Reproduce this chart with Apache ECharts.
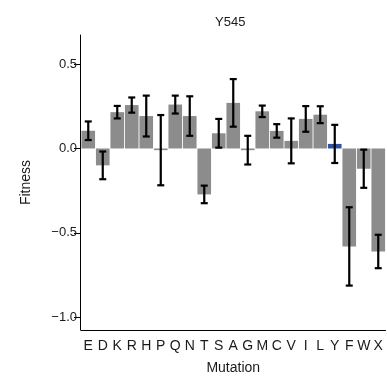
<!DOCTYPE html>
<html>
<head>
<meta charset="utf-8">
<script src="https://cdn.jsdelivr.net/npm/echarts@6/dist/echarts.min.js"></script>
<style>
  html, body { margin: 0; padding: 0; background: #fff; }
  #chart { width: 387px; height: 377px; }
</style>
</head>
<body>
<div id="chart"></div>
<script>
// Mutations at position Y545 and their measured fitness (mean and error half-width)
const mutations = ['E','D','K','R','H','P','Q','N','T','S','A','G','M','C','V','I','L','Y','F','W','X'];
const fitness = [0.105, -0.10, 0.215, 0.257, 0.192, -0.01, 0.26, 0.192, -0.272, 0.09, 0.27, -0.01, 0.22, 0.104, 0.045, 0.175, 0.20, 0.027, -0.58, -0.12, -0.61];
const errors = [0.055, 0.082, 0.037, 0.045, 0.121, 0.208, 0.053, 0.117, 0.052, 0.085, 0.141, 0.085, 0.034, 0.04, 0.133, 0.076, 0.05, 0.113, 0.232, 0.113, 0.099];
const wildType = 'Y';
const yTicks = [-1.0, -0.5, 0.0, 0.5];

const FONT = "'Liberation Sans', Arial, Helvetica, sans-serif";
const GREY = '#8c8c8c';
const BLUE = '#3150a2';

const chart = echarts.init(document.getElementById('chart'), null, { renderer: 'canvas' });

const barData = mutations.map((m, i) => ({
  value: fitness[i],
  itemStyle: { color: m === wildType ? BLUE : GREY }
}));

const errData = mutations.map((m, i) => [i, fitness[i] - errors[i], fitness[i] + errors[i]]);

function fmt(v) {
  const s = Math.abs(v).toFixed(1);
  return v < 0 ? '\u2212' + s : s;
}

chart.setOption({
  animation: false,
  backgroundColor: '#ffffff',
  textStyle: { fontFamily: FONT },
  title: {
    text: 'Y545',
    left: 210,
    top: 11,
    textStyle: { fontFamily: FONT, fontSize: 13, fontWeight: 'normal', color: '#1a1a1a' }
  },
  grid: { left: 81, right: 1.5, top: 35, bottom: 47, containLabel: false, outerBoundsMode: 'none' },
  xAxis: {
    type: 'category',
    data: mutations,
    boundaryGap: true,
    name: 'Mutation',
    nameLocation: 'middle',
    nameGap: 31,
    nameTextStyle: { fontFamily: FONT, fontSize: 14, color: '#1a1a1a' },
    axisLine: { onZero: false, lineStyle: { color: '#000', width: 1 } },
    axisTick: { alignWithLabel: true, length: 5, lineStyle: { color: '#000' } },
    axisLabel: { margin: 9, fontFamily: FONT, fontSize: 14, color: '#1a1a1a', interval: 0 },
    splitLine: { show: false }
  },
  yAxis: {
    type: 'value',
    min: -1.075,
    max: 0.672,
    offset: 1,
    name: 'Fitness',
    nameLocation: 'middle',
    nameGap: 47,
    nameTextStyle: { fontFamily: FONT, fontSize: 14, color: '#1a1a1a' },
    axisLine: { show: true, lineStyle: { color: '#000', width: 1 } },
    axisTick: { show: true, length: 6, customValues: yTicks, lineStyle: { color: '#000' } },
    axisLabel: { margin: 3, fontFamily: FONT, fontSize: 13, color: '#1a1a1a', customValues: yTicks, formatter: fmt },
    splitLine: { show: false }
  },
  series: [
    {
      type: 'bar',
      data: barData,
      barCategoryGap: '6%',
      silent: true
    },
    {
      type: 'custom',
      silent: true,
      z: 5,
      data: errData,
      renderItem: function (params, api) {
        const x = api.coord([api.value(0), 0])[0];
        const lo = api.coord([api.value(0), api.value(1)])[1];
        const hi = api.coord([api.value(0), api.value(2)])[1];
        const cap = 3.5;
        const style = { stroke: '#000', lineWidth: 2.2 };
        return {
          type: 'group',
          children: [
            { type: 'line', shape: { x1: x, y1: hi, x2: x, y2: lo }, style: style },
            { type: 'line', shape: { x1: x - cap, y1: hi, x2: x + cap, y2: hi }, style: style },
            { type: 'line', shape: { x1: x - cap, y1: lo, x2: x + cap, y2: lo }, style: style }
          ]
        };
      }
    }
  ]
});
</script>
</body>
</html>
